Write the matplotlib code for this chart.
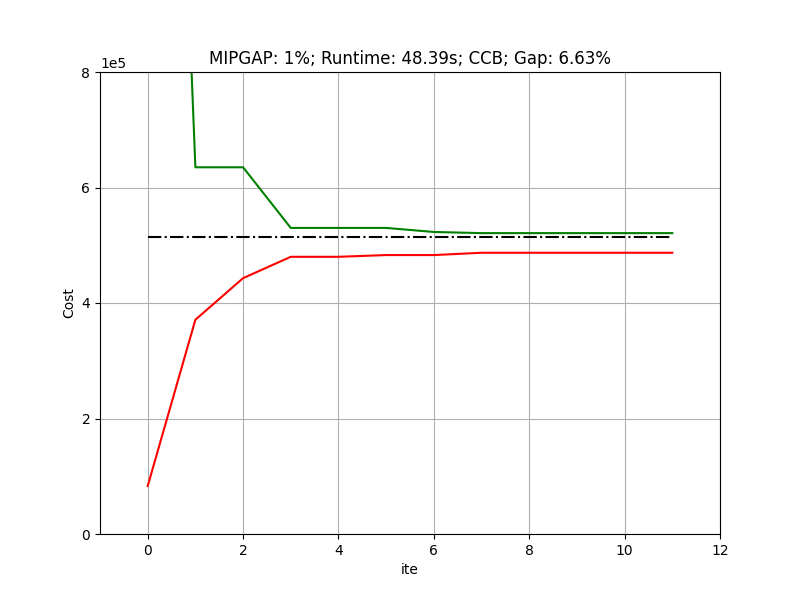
import numpy as np
import matplotlib
matplotlib.use('Agg')
import matplotlib.pyplot as plt

ite = list(range(12))
lower = [0.83e5, 3.71e5, 4.43e5, 4.80e5, 4.80e5, 4.83e5, 4.83e5, 4.87e5, 4.87e5, 4.87e5, 4.87e5, 4.87e5]
upper = [2.7e6, 6.35e5, 6.35e5, 5.30e5, 5.30e5, 5.30e5, 5.23e5, 5.21e5, 5.21e5, 5.21e5, 5.21e5, 5.21e5]
optimal = 5.14e5

fig, ax = plt.subplots(figsize=(8, 6), dpi=100)
ax.plot(ite, lower, color='red')
ax.plot(ite, upper, color='green')
ax.plot(ite, [optimal] * len(ite), 'k-.')
ax.set_xlim(-1, 12)
ax.set_ylim(0, 8e5)
ax.set_yticks([0, 2e5, 4e5, 6e5, 8e5])
ax.ticklabel_format(axis='y', style='sci', scilimits=(0, 0))
ax.set_xlabel('ite')
ax.set_ylabel('Cost')
ax.set_title('MIPGAP: 1%; Runtime: 48.39s; CCB; Gap: 6.63%')
ax.grid(True)
fig.savefig('out.png')
